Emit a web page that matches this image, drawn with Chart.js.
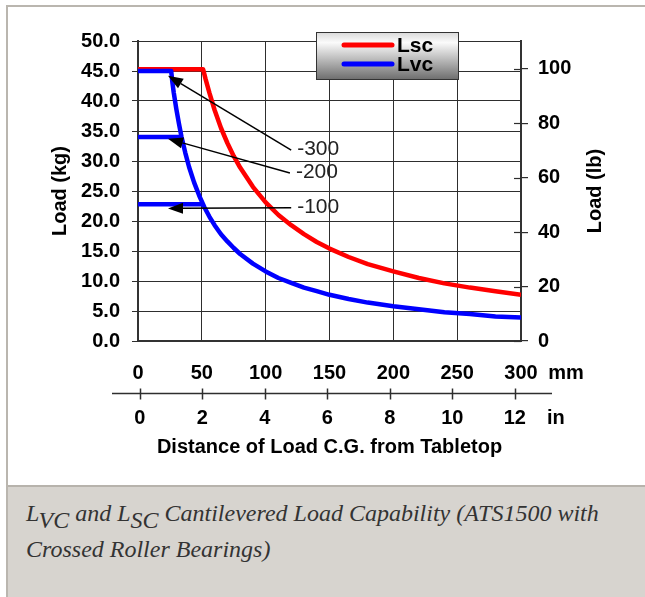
<!DOCTYPE html>
<html>
<head>
<meta charset="utf-8">
<script src="https://cdn.jsdelivr.net/npm/chart.js@4.4.1/dist/chart.umd.min.js"></script>
<style>
  body { margin: 0; width: 645px; height: 597px; overflow: hidden; background: #fff; position: relative; }
  #frame { position: absolute; left: 6px; top: 5px; width: 660px; height: 620px; border: 2px solid #bab6af; background: #fff; }
  #wrap { position: absolute; left: 0; top: 0; width: 645px; height: 484px; }
  #caption {
    position: absolute; left: 8px; top: 485px; width: 637px; height: 112px;
    background: #d7d4cf; border-top: 2px solid #b7b3ac;
    box-sizing: border-box; padding: 8px 0 0 18px;
    font-family: "Liberation Serif", "Times New Roman", serif; font-style: italic;
    font-size: 24px; line-height: 36px; color: #333;
  }
  #caption .sub { position: relative; top: 7px; }
</style>
</head>
<body>
<div id="frame"></div>
<div id="wrap"><canvas id="loadChart" width="645" height="484"></canvas></div>
<div id="caption">L<span class="sub">VC</span> and L<span class="sub">SC</span> Cantilevered Load Capability (ATS1500 with<br>Crossed Roller Bearings)</div>
<script>
// values
const lscDistanceMm = [0, 51, 53, 56, 60, 65, 70, 75, 80, 90, 100, 110, 120, 130, 140, 150, 165, 180, 200, 220, 240, 260, 280, 300];
const lscLoadKg = [45.3, 45.3, 43.6, 41.3, 38.5, 35.5, 33.0, 30.8, 28.9, 25.7, 23.1, 21.0, 19.3, 17.8, 16.5, 15.4, 14.0, 12.8, 11.6, 10.5, 9.6, 8.9, 8.3, 7.7];

const lvcDistanceMm = [0, 26, 27, 28, 30, 32, 34, 37, 40, 44, 48, 52, 56, 60, 65, 70, 75, 80, 90, 100, 110, 120, 130, 140, 150, 165, 180, 200, 220, 240, 260, 280, 300];
const lvcLoadKg = [45.0, 45.0, 43.0, 41.4, 38.7, 36.3, 34.1, 31.4, 29.0, 26.4, 24.2, 22.3, 20.7, 19.3, 17.8, 16.6, 15.5, 14.5, 12.9, 11.6, 10.5, 9.7, 8.9, 8.3, 7.7, 7.0, 6.4, 5.8, 5.3, 4.8, 4.5, 4.1, 3.9];

const lvc200DistanceMm = [0, 34];
const lvc200LoadKg = [34.0, 34.0];
const lvc100DistanceMm = [0, 51];
const lvc100LoadKg = [22.8, 22.8];

const kgTicks = [0, 5, 10, 15, 20, 25, 30, 35, 40, 45, 50];
const lbTicks = [0, 20, 40, 60, 80, 100];
const mmTicks = [0, 50, 100, 150, 200, 250, 300];
const inTicks = [0, 2, 4, 6, 8, 10, 12];

const arrowLabels = ['-300', '-200', '-100'];
const arrowFromMm = [120, 119, 120];
const arrowFromKg = [31.8, 28.0, 22.2];
const arrowToMm = [23.5, 23.5, 23.5];
const arrowToKg = [44.2, 33.7, 22.1];

const KG_TO_LB = 2.20462;
const FONT = 'Arial, "Liberation Sans", sans-serif';
const GRID = '#2e2e2e';

function toPoints(xs, ys) {
    return xs.map((x, i) => ({ x: x, y: ys[i] }));
}

function setTicks(list) {
    return function(scale) {
        scale.ticks = list.map(v => ({ value: v }));
    };
}

const extras = {
    id: 'extras',
    afterDatasetsDraw(chart) {
        const ctx = chart.ctx;
        const x = chart.scales.x;
        const y = chart.scales.y;
        ctx.save();
        ctx.strokeStyle = '#000';
        ctx.fillStyle = '#000';
        ctx.lineWidth = 1.5;
        arrowLabels.forEach((label, i) => {
            const x1 = x.getPixelForValue(arrowFromMm[i]);
            const y1 = y.getPixelForValue(arrowFromKg[i]);
            const x2 = x.getPixelForValue(arrowToMm[i]);
            const y2 = y.getPixelForValue(arrowToKg[i]);
            const ang = Math.atan2(y2 - y1, x2 - x1);
            const headLen = 15, headHalf = 5.5;
            const bx = x2 - headLen * Math.cos(ang);
            const by = y2 - headLen * Math.sin(ang);
            ctx.beginPath();
            ctx.moveTo(x1, y1);
            ctx.lineTo(bx, by);
            ctx.stroke();
            ctx.beginPath();
            ctx.moveTo(x2, y2);
            ctx.lineTo(bx + headHalf * Math.sin(ang), by - headHalf * Math.cos(ang));
            ctx.lineTo(bx - headHalf * Math.sin(ang), by + headHalf * Math.cos(ang));
            ctx.closePath();
            ctx.fill();
            ctx.font = '21px ' + FONT;
            ctx.fillStyle = '#222';
            ctx.textAlign = 'left';
            ctx.textBaseline = 'middle';
            ctx.fillText(label, x1 + 6, y1 - 1);
            ctx.fillStyle = '#000';
        });
        ctx.restore();
    },
    afterDraw(chart) {
        const ctx = chart.ctx;
        const area = chart.chartArea;
        const y2 = chart.scales.y2;
        const xin = chart.scales.x2;
        ctx.save();

        // inner half of the lb tick marks
        ctx.strokeStyle = GRID;
        ctx.lineWidth = 1.2;
        lbTicks.forEach(v => {
            const py = Math.round(y2.getPixelForValue(v)) + 0.5;
            ctx.beginPath();
            ctx.moveTo(area.right - 7, py);
            ctx.lineTo(area.right, py);
            ctx.stroke();
        });

        // inch axis line with crossing ticks
        const ly = Math.round(xin.top) + 0.5;
        ctx.lineWidth = 1.5;
        ctx.beginPath();
        ctx.moveTo(area.left - 26, ly);
        ctx.lineTo(area.right + 31, ly);
        ctx.stroke();
        inTicks.forEach(v => {
            const px = Math.round(xin.getPixelForValue(v)) + 0.5;
            ctx.beginPath();
            ctx.moveTo(px, ly - 5);
            ctx.lineTo(px, ly + 6);
            ctx.stroke();
        });

        // unit labels
        ctx.fillStyle = '#000';
        ctx.font = 'bold 20px ' + FONT;
        ctx.textBaseline = 'middle';
        ctx.textAlign = 'center';
        ctx.fillText('mm', 566, 373);
        ctx.textAlign = 'left';
        ctx.fillText('in', 547, 418);

        // right axis title, reading upward
        ctx.save();
        ctx.translate(595, (area.top + area.bottom) / 2);
        ctx.rotate(-Math.PI / 2);
        ctx.textAlign = 'center';
        ctx.fillText('Load (lb)', 0, 0);
        ctx.restore();

        // legend box
        const bx = 316, by = 32, bw = 143, bh = 48;
        const g = ctx.createLinearGradient(0, by, 0, by + bh);
        g.addColorStop(0, '#d8d8d8');
        g.addColorStop(0.22, '#fbfbfb');
        g.addColorStop(1, '#6c6c6c');
        ctx.fillStyle = g;
        ctx.fillRect(bx, by, bw, bh);
        ctx.strokeStyle = '#333';
        ctx.lineWidth = 1;
        ctx.strokeRect(bx + 0.5, by + 0.5, bw - 1, bh - 1);
        const shown = chart.data.datasets.filter(d => d.label);
        shown.forEach((d, i) => {
            const ry = by + 13 + i * 19;
            ctx.strokeStyle = d.borderColor;
            ctx.lineWidth = 5;
            ctx.lineCap = 'round';
            ctx.beginPath();
            ctx.moveTo(344, ry);
            ctx.lineTo(392, ry);
            ctx.stroke();
            ctx.fillStyle = '#000';
            ctx.font = 'bold 21px ' + FONT;
            ctx.textAlign = 'left';
            ctx.textBaseline = 'middle';
            ctx.fillText(d.label, 397, ry + 1);
        });
        ctx.restore();
    }
};

function initLoadChart() {
    const ctx = document.getElementById('loadChart').getContext('2d');
    const lineBase = {
        pointRadius: 0,
        borderWidth: 4.5,
        tension: 0,
        fill: false,
        borderJoinStyle: 'round'
    };

    new Chart(ctx, {
        type: 'line',
        data: {
            datasets: [
                Object.assign({ label: 'Lsc', data: toPoints(lscDistanceMm, lscLoadKg), borderColor: '#ff0000', order: 2 }, lineBase),
                Object.assign({ label: 'Lvc', data: toPoints(lvcDistanceMm, lvcLoadKg), borderColor: '#0000ff', order: 1 }, lineBase),
                Object.assign({ label: '', data: toPoints(lvc200DistanceMm, lvc200LoadKg), borderColor: '#0000ff', order: 1 }, lineBase),
                Object.assign({ label: '', data: toPoints(lvc100DistanceMm, lvc100LoadKg), borderColor: '#0000ff', order: 1 }, lineBase)
            ]
        },
        options: {
            responsive: false,
            animation: false,
            layout: { padding: { left: 40, right: 24, top: 41, bottom: 19 } },
            plugins: {
                legend: { display: false },
                tooltip: { enabled: false }
            },
            scales: {
                x: {
                    type: 'linear',
                    position: 'bottom',
                    weight: 1,
                    min: 0,
                    max: 300,
                    afterBuildTicks: setTicks(mmTicks),
                    afterFit: s => { s.height = 52; },
                    ticks: { font: { family: FONT, size: 20, weight: 'bold' }, color: '#000', padding: 20, maxRotation: 0 },
                    grid: { color: GRID, lineWidth: 1, drawTicks: false },
                    border: { color: '#333', width: 2 }
                },
                x2: {
                    type: 'linear',
                    position: 'bottom',
                    weight: 2,
                    min: -0.06,
                    max: 12.2,
                    afterBuildTicks: setTicks(inTicks),
                    afterFit: s => { s.height = 72; },
                    ticks: { font: { family: FONT, size: 20, weight: 'bold' }, color: '#000', padding: 13, maxRotation: 0 },
                    grid: { display: false, drawTicks: false },
                    border: { display: false },
                    title: {
                        display: true,
                        text: 'Distance of Load C.G. from Tabletop',
                        color: '#000',
                        font: { family: FONT, size: 20, weight: 'bold' },
                        padding: { top: 0, bottom: 6 }
                    }
                },
                y: {
                    position: 'left',
                    min: 0,
                    max: 50,
                    afterBuildTicks: setTicks(kgTicks),
                    afterFit: s => { s.width = 98; },
                    ticks: {
                        font: { family: FONT, size: 20, weight: 'bold' },
                        color: '#000',
                        padding: 12,
                        callback: v => v.toFixed(1)
                    },
                    grid: { color: GRID, lineWidth: 1, tickLength: 6, tickColor: GRID },
                    border: { color: '#333', width: 2 },
                    title: {
                        display: true,
                        text: 'Load (kg)',
                        color: '#000',
                        font: { family: FONT, size: 20, weight: 'bold' },
                        padding: { top: 8, bottom: 0 }
                    }
                },
                y2: {
                    position: 'right',
                    min: 0,
                    max: 50 * KG_TO_LB,
                    afterBuildTicks: setTicks(lbTicks),
                    afterFit: s => { s.width = 100; },
                    ticks: { font: { family: FONT, size: 20, weight: 'bold' }, color: '#000', padding: 10 },
                    grid: { drawOnChartArea: false, tickLength: 7, tickColor: GRID, lineWidth: 1.2 },
                    border: { color: '#333', width: 2 }
                }
            }
        },
        plugins: [extras]
    });
}

document.addEventListener('DOMContentLoaded', initLoadChart);
</script>
</body>
</html>
